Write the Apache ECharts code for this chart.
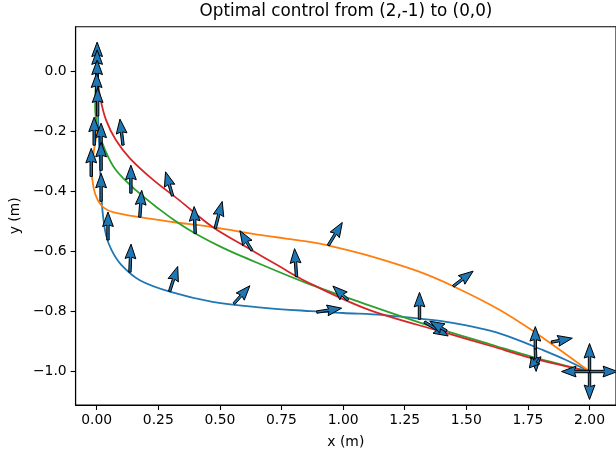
<!DOCTYPE html>
<html><head><meta charset="utf-8">
<script src="https://cdn.jsdelivr.net/npm/echarts@6/dist/echarts.min.js"></script>
<style>html,body{margin:0;padding:0;background:#fff}#c{width:616px;height:454px}</style>
</head><body><div id="c"></div>
<script>
const xTicks = [0, 0.25, 0.5, 0.75, 1.0, 1.25, 1.5, 1.75, 2.0];
const yTicks = [-1.0, -0.8, -0.6, -0.4, -0.2, 0.0];

const blueX = [2.0, 1.90, 1.80, 1.70, 1.60, 1.50, 1.40, 1.30, 1.165, 1.0, 0.87, 0.67, 0.47, 0.30, 0.175, 0.10, 0.06, 0.038, 0.025, 0.018, 0.013, 0.008, 0.004, 0.0];
const blueY = [-1.0, -0.960, -0.925, -0.892, -0.865, -0.846, -0.832, -0.823, -0.812, -0.805, -0.799, -0.787, -0.768, -0.735, -0.696, -0.645, -0.595, -0.545, -0.475, -0.40, -0.30, -0.20, -0.10, 0.0];

const orangeX = [2.0, 1.90, 1.785, 1.636, 1.447, 1.30, 1.10, 0.94, 0.871, 0.67, 0.469, 0.308, 0.175, 0.066, 0.03, 0.005, -0.012, -0.02, -0.012, 0.0, 0.0, 0.0];
const orangeY = [-1.0, -0.94, -0.873, -0.795, -0.716, -0.665, -0.613, -0.580, -0.569, -0.546, -0.519, -0.502, -0.486, -0.469, -0.455, -0.43, -0.39, -0.33, -0.27, -0.196, -0.10, 0.0];

const greenX = [2.0, 1.77, 1.60, 1.367, 1.10, 0.85, 0.60, 0.50, 0.40, 0.336, 0.255, 0.159, 0.078, 0.034, 0.006, -0.006, -0.004, 0.0];
const greenY = [-1.0, -0.952, -0.91, -0.852, -0.778, -0.705, -0.620, -0.583, -0.540, -0.508, -0.460, -0.396, -0.329, -0.262, -0.196, -0.12, -0.06, 0.0];

const redX = [2.0, 1.77, 1.60, 1.407, 1.10, 0.85, 0.738, 0.617, 0.469, 0.336, 0.227, 0.135, 0.078, 0.038, 0.014, 0.0];
const redY = [-1.0, -0.956, -0.915, -0.869, -0.793, -0.700, -0.648, -0.590, -0.518, -0.430, -0.360, -0.290, -0.229, -0.162, -0.085, 0.0];

// quiver: base point and control direction (u, v)
const arrowX = [2.0, 2.0, 2.0, 2.0, 0.940, 1.447, 1.020, 0.893, 1.310, 1.33, 1.42, 1.78, 1.78, 1.79, 1.845,
  0.107, 0.139, 0.175, 0.308, 0.40, 0.481, 0.63, 0.811, 0.135, 0.046, 0.296, 0.557,
  0.002, 0.002, 0.002, 0.0, 0.004, -0.01, 0.018, 0.018, -0.022, 0.018];
const arrowY = [-1.0, -1.0, -1.0, -1.0, -0.580, -0.716, -0.762, -0.802, -0.826, -0.835, -0.865, -0.925, -0.925, -0.955, -0.902,
  -0.246, -0.406, -0.486, -0.415, -0.540, -0.523, -0.597, -0.684, -0.669, -0.562, -0.733, -0.774,
  0.004, -0.022, -0.056, -0.099, -0.149, -0.246, -0.266, -0.33, -0.35, -0.433];
const arrowU = [0, 0, -1, 1, 0.5, 0.71, -0.54, 0.89, 0, 0.85, -0.6, 0, 0.03, -0.3, 0.75,
  -0.11, 0, 0.07, -0.25, -0.04, 0.25, -0.43, -0.07, 0.04, 0, 0.29, 0.57,
  0, 0, 0, 0, 0, 0, 0, 0, 0, 0];
const arrowV = [1, -1, 0, 0, 0.82, 0.54, 0.5, 0.14, 0.96, -0.5, 0.35, 0.8, -0.8, -0.35, 0.14,
  0.93, 1, 0.96, 0.86, 0.96, 0.96, 0.71, 1, 1, 1, 0.89, 0.64,
  1, 1, 1, 1, 1, 1, 1, 1, 1, 1];

const zip = (a, b) => a.map((v, i) => [v, b[i]]);
const arrows = arrowX.map((x, i) => [x, arrowY[i], arrowU[i], arrowV[i]]);
const minus = s => s.replace('-', '\u2212');
const FONT = 'DejaVu Sans';

function lineSeries(name, xs, ys, color) {
  return { name, type: 'line', data: zip(xs, ys), showSymbol: false, smooth: 0.35,
    lineStyle: { color, width: 1.8 }, itemStyle: { color }, z: 2, animation: false };
}

const chart = echarts.init(document.getElementById('c'), null, { renderer: 'canvas' });
chart.setOption({
  animation: false,
  backgroundColor: '#fff',
  title: { text: 'Optimal control from (2,-1) to (0,0)', left: 346, top: 3, padding: 0, textAlign: 'center',
    textStyle: { fontFamily: FONT, fontSize: 16.8, fontWeight: 'normal', color: '#000' } },
  grid: { left: 72.5, top: 26.7, width: 545, height: 378.3, show: true, borderColor: '#000', borderWidth: 1.1, backgroundColor: 'transparent' },
  xAxis: { type: 'value', min: -0.0853, max: 2.1074, name: 'x (m)', nameLocation: 'middle', nameGap: 30,
    nameTextStyle: { fontFamily: FONT, fontSize: 13.9, color: '#000' },
    axisLine: { show: true, onZero: false, lineStyle: { color: '#000', width: 1.1 } },
    axisTick: { show: true, length: 5, customValues: xTicks, lineStyle: { color: '#000', width: 1.1 } },
    axisLabel: { customValues: xTicks, margin: 8, fontFamily: FONT, fontSize: 13.9, color: '#000', formatter: v => minus(v.toFixed(2)) },
    splitLine: { show: false } },
  yAxis: { type: 'value', min: -1.1115, max: 0.1485, name: 'y (m)', nameLocation: 'middle', nameGap: 47, nameRotate: 90,
    nameTextStyle: { fontFamily: FONT, fontSize: 13.9, color: '#000' },
    axisLine: { show: true, onZero: false, lineStyle: { color: '#000', width: 1.1 } },
    axisTick: { show: true, length: 5, customValues: yTicks, lineStyle: { color: '#000', width: 1.1 } },
    axisLabel: { customValues: yTicks, margin: 9, fontFamily: FONT, fontSize: 13.9, color: '#000', formatter: v => minus(v.toFixed(1)) },
    splitLine: { show: false } },
  series: [
    lineSeries('blue', blueX, blueY, '#1f77b4'),
    lineSeries('orange', orangeX, orangeY, '#ff7f0e'),
    lineSeries('green', greenX, greenY, '#2ca02c'),
    lineSeries('red', redX, redY, '#d62728'),
    { type: 'custom', data: arrows, z: 5, clip: false,
      renderItem(params, api) {
        const p = api.coord([api.value(0), api.value(1)]);
        const L = 28;
        const dx = api.value(2) * L, dy = -api.value(3) * L;
        const len = Math.hypot(dx, dy);
        const a = Math.atan2(dy, dx), c = Math.cos(a), s = Math.sin(a);
        const sw = 1.2, hw = 5.4, hl = Math.min(14.5, len * 0.75), hal = hl * 0.9;
        const loc = [[0, -sw], [len - hal, -sw], [len - hl, -hw], [len, 0], [len - hl, hw], [len - hal, sw], [0, sw]];
        const pts = loc.map(([lx, ly]) => [p[0] + lx * c - ly * s, p[1] + lx * s + ly * c]);
        return { type: 'polygon', shape: { points: pts }, style: { fill: '#1f77b4', stroke: '#000', lineWidth: 1 } };
      } }
  ]
});
</script></body></html>
